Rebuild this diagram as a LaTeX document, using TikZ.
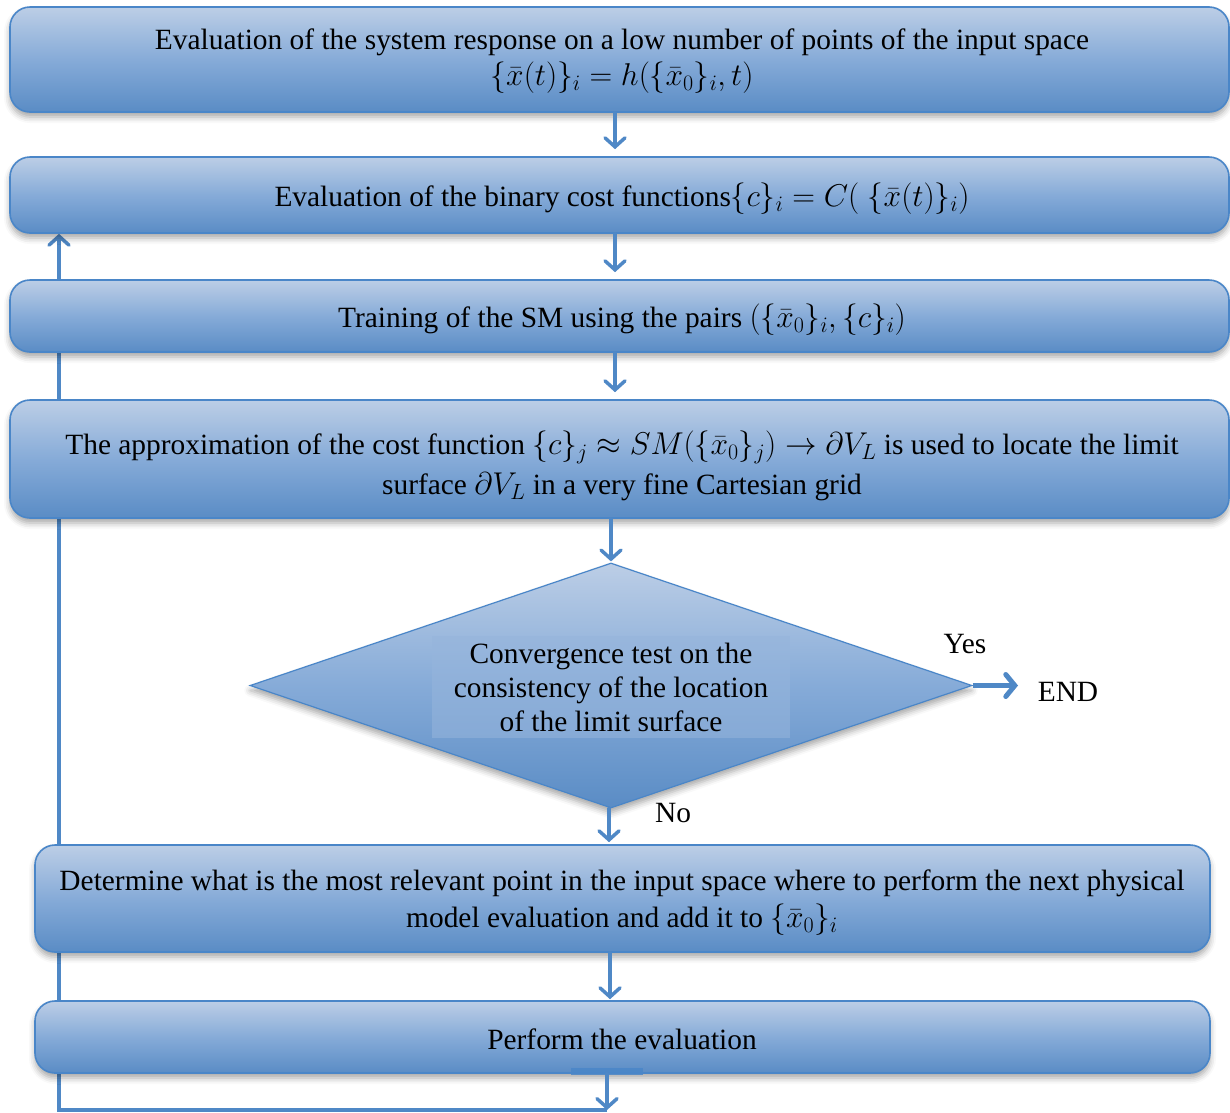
\documentclass[tikz,border=0pt]{standalone}
\usepackage{fix-cm}
\usepackage{fontspec}
\setmainfont{Liberation Serif}
\usetikzlibrary{arrows.meta,shapes.geometric,shadows.blur,backgrounds,calc}
\definecolor{bordc}{HTML}{4A86C8}
\definecolor{topc}{HTML}{BCCEE6}
\definecolor{midc}{HTML}{86ABD8}
\definecolor{botc}{HTML}{5A8CC5}
\definecolor{arrc}{HTML}{4F88C6}
\newcommand{\mymath}[1]{{\fontsize{31.5}{34}\selectfont$#1$}}
\begin{document}
\begin{tikzpicture}[x=1pt,y=-1pt,
  every node/.style={font=\fontsize{29.4}{36}\selectfont},
  box/.style={rectangle, rounded corners=20pt, draw=bordc, line width=1.6pt,
    top color=topc, bottom color=botc, middle color=midc,
    blur shadow={shadow xshift=0pt,shadow yshift=-5pt,shadow blur radius=6pt,shadow opacity=35},
    inner sep=0pt},
  txt/.style={inner sep=0pt, align=center},
  dbox/.style={diamond, draw=bordc, line width=1.2pt, inner sep=0pt,
    top color=topc, bottom color=botc, middle color=midc,
    blur shadow={shadow xshift=0pt,shadow yshift=-5pt,shadow blur radius=6pt,shadow opacity=35}},
  arr/.style={draw=arrc, line width=3.5pt, line cap=round,
    -{Straight Barb[length=9pt,width=20pt,line cap=round]}},
  yarr/.style={draw=arrc, line width=5pt,
    -{Straight Barb[length=9pt,width=22pt,line cap=round]}},
  lbl/.style={inner sep=0pt}]
\useasboundingbox (0,0) rectangle (1230,1112);

% boxes
\node[box, minimum width=1219pt, minimum height=105pt] (b1) at (619.5,59.5) {};
\node[box, minimum width=1219pt, minimum height=76pt] (b2) at (619.5,195) {};
\node[box, minimum width=1219pt, minimum height=72pt] (b3) at (619.5,316) {};
\node[box, minimum width=1219pt, minimum height=118pt] (b4) at (619.5,459) {};
\node[dbox, minimum width=722pt, minimum height=245pt, aspect=2.95] (dia) at (611,685.5) {};
\node[box, minimum width=1175pt, minimum height=107pt] (b5) at (622.5,898.5) {};
\node[box, minimum width=1175pt, minimum height=72pt] (b6) at (622.5,1037) {};
\fill[bordc, opacity=0.85] (571,1068) rectangle (643,1075);

% texts
\node[txt, font=\fontsize{29.4}{36}\selectfont] (t1) at (622,61)
  {Evaluation of the system response on a low number of points of the input space\\
   \mymath{\{\bar{x}(t)\}_i = h(\{\bar{x}_0\}_i, t)}};
\node[txt] (t2) at (622,199)
  {Evaluation of the binary cost functions\mymath{\{c\}_i = C(\;\{\bar{x}(t)\}_i)}};
\node[txt] (t3) at (622,320)
  {Training of the SM using the pairs \mymath{(\{\bar{x}_0\}_i, \{c\}_i)}};
\node[txt, font=\fontsize{29.4}{40}\selectfont] (t4) at (622,466)
  {The approximation of the cost function \mymath{\{c\}_j \approx SM\bigl(\{\bar{x}_0\}_j\bigr) \rightarrow \partial V_L} is used to locate the limit\\
   surface \mymath{\partial V_L} in a very fine Cartesian grid};
\node[txt, font=\fontsize{29.4}{34}\selectfont, minimum width=358pt, minimum height=102pt,
  fill=midc!70!topc, fill opacity=0.55, text opacity=1] (dtxt) at (611,687)
  {Convergence test on the\\consistency of the location\\of the limit surface};
\node[txt, font=\fontsize{29.4}{37}\selectfont] (t5) at (622,903)
  {Determine what is the most relevant point in the input space where to perform the next physical\\
   model evaluation and add it to \mymath{\{\bar{x}_0\}_i}};
\node[txt] (t6) at (622,1039) {Perform the evaluation};

\coordinate (bl) at (607,1110);
\coordinate (lx) at (59,1110);
\coordinate (endc) at (1018,685.5);

\begin{scope}[on background layer]
  \draw[arr, line cap=butt, line join=miter] (bl) -- (lx) -- (b2.south -| lx);
\end{scope}

\draw[arr, shorten >=7pt] ([xshift=-4.5pt]b1.south) -- ([xshift=-4.5pt]b2.north);
\draw[arr, shorten >=7pt] ([xshift=-4.5pt]b2.south) -- ([xshift=-4.5pt]b3.north);
\draw[arr, shorten >=7pt] ([xshift=-4.5pt]b3.south) -- ([xshift=-4.5pt]b4.north);
\draw[arr, shorten >=1pt] (b4.south -| dia.north) -- (dia.north);
\draw[arr, shorten >=2pt] ([xshift=-2pt]dia.south) -- ([xshift=-2pt]dia.south |- b5.north);
\draw[arr, shorten >=1pt] ([xshift=-12.5pt]b5.south) -- ([xshift=-12.5pt]b6.north);
\draw[arr] (b6.south -| bl) -- (bl);
\draw[yarr] (dia.east) -- (endc);

\node[lbl] (yes) at (965,644) {Yes};
\node[lbl] (end) at (1068,692) {END};
\node[lbl, anchor=west] (no) at (655,813) {No};
\end{tikzpicture}
\end{document}
